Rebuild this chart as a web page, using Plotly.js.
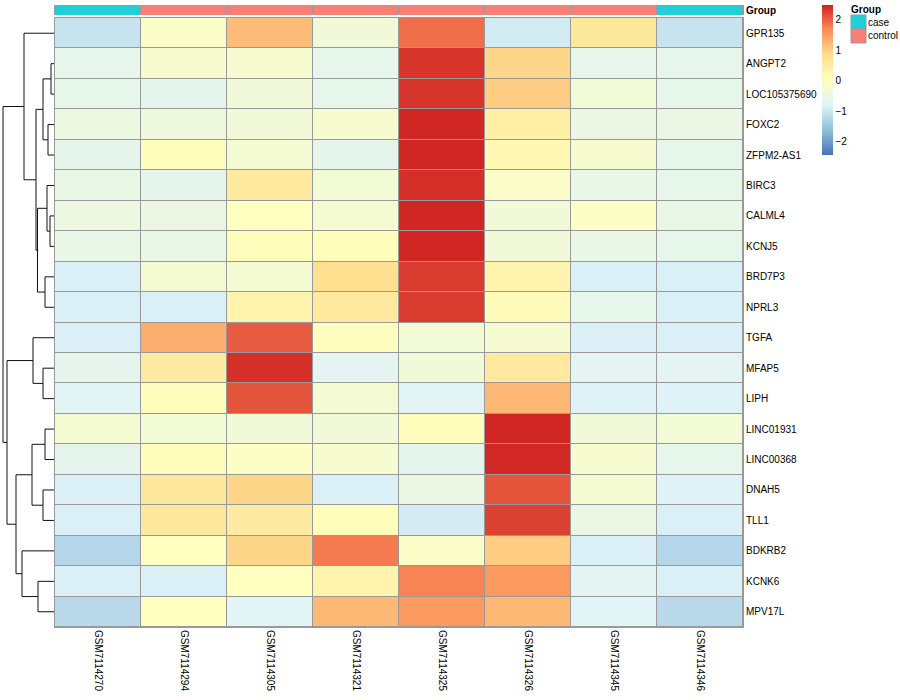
<!DOCTYPE html>
<html><head><meta charset="utf-8">
<script src="https://cdn.plot.ly/plotly-3.0.1.min.js"></script>
<style>html,body{margin:0;padding:0;background:#fff}#chart{width:900px;height:700px}</style>
</head><body><div id="chart"></div>
<script>
// ---- data ----
const sampleNames = ['GSM7114270','GSM7114294','GSM7114305','GSM7114321','GSM7114325','GSM7114326','GSM7114345','GSM7114346'];
const sampleGroups = ['case','control','control','control','control','control','control','case'];
const groupLevels = ['case','control'];
const groupColors = ['#1FD0D8','#FA7E74'];
const geneNames = ['GPR135','ANGPT2','LOC105375690','FOXC2','ZFPM2-AS1','BIRC3','CALML4','KCNJ5','BRD7P3','NPRL3',
  'TGFA','MFAP5','LIPH','LINC01931','LINC00368','DNAH5','TLL1','BDKRB2','KCNK6','MPV17L'];
const zScores = [
  [-1.05,-0.10, 1.20,-0.35, 1.90,-0.92, 0.65,-1.05],
  [-0.60,-0.20,-0.20,-0.60, 2.35, 0.95,-0.60,-0.60],
  [-0.60,-0.65,-0.35,-0.60, 2.35, 1.05,-0.30,-0.60],
  [-0.45,-0.40,-0.35,-0.20, 2.46, 0.45,-0.50,-0.50],
  [-0.62, 0.08,-0.25,-0.62, 2.46, 0.20,-0.20,-0.60],
  [-0.55,-0.62, 0.60,-0.30, 2.40,-0.10,-0.55,-0.60],
  [-0.45,-0.50, 0.00,-0.25, 2.46,-0.35,-0.05,-0.55],
  [-0.55,-0.55, 0.08, 0.08, 2.46,-0.35,-0.55,-0.60],
  [-0.85,-0.25,-0.25, 0.85, 2.30, 0.35,-0.85,-0.85],
  [-0.85,-0.85, 0.35, 0.60, 2.30, 0.10,-0.60,-0.85],
  [-0.85, 1.35, 2.05, 0.05,-0.30,-0.20,-0.85,-0.85],
  [-0.65, 0.55, 2.40,-0.70,-0.35, 0.60,-0.70,-0.70],
  [-0.75, 0.08, 2.10,-0.25,-0.75, 1.25,-0.80,-0.80],
  [-0.25,-0.30,-0.35,-0.35, 0.08, 2.46,-0.35,-0.30],
  [-0.65, 0.08,-0.05,-0.20,-0.65, 2.45,-0.20,-0.60],
  [-0.85, 0.65, 0.95,-0.85,-0.50, 2.10,-0.25,-0.80],
  [-0.85, 0.65, 0.55, 0.08,-0.90, 2.25,-0.50,-0.85],
  [-1.25, 0.00, 0.95, 1.80,-0.10, 1.05,-0.85,-1.25],
  [-0.85,-0.85, 0.02, 0.35, 1.75, 1.55,-0.70,-0.85],
  [-1.20, 0.02,-0.75, 1.25, 1.55, 1.25,-0.75,-1.20]
];
// row dendrogram (hclust style: negative = leaf row index+1, positive = earlier merge)
const mergeLeft   = [-2, -7, -4, -6, -9, -14, 1, -12, -16, 4, -19, 7, -11, 6, -1, -18, 14, 13, 15];
const mergeRight  = [-3, -8, -5,  2, -10, -15, 3, -13, -17, 5, -20, 10, 8, 9, 12, 11, 16, 17, 18];
const mergeHeight = [ 3,  4,  6,  7,  9,   9, 11,  11,  11, 16.5, 16, 18, 21, 22, 30, 32, 38, 47, 51];
const colorTicks = [-2, -1, 0, 1, 2];

// ---- build ----
const zMin = -2.43, zMax = 2.49;
const palette = ['#4575B4','#91BFDB','#E0F3F8','#FFFFBF','#FEE090','#FC8D59','#CF2322'];
const colorscale = palette.map((c, i) => [i / (palette.length - 1), c]);
const colIdx = sampleNames.map((_, i) => i);
const rowIdx = geneNames.map((_, i) => i);

const info = [];
const dx = [], dy = [];
function node(id) { return id < 0 ? {y: -id - 1, h: 0} : info[id - 1]; }
for (let k = 0; k < mergeLeft.length; k++) {
  const a = node(mergeLeft[k]), b = node(mergeRight[k]), h = mergeHeight[k];
  dx.push(a.h, h, h, b.h, null);
  dy.push(a.y, a.y, b.y, b.y, null);
  info.push({y: (a.y + b.y) / 2, h: h});
}

const groupCodes = sampleGroups.map(g => groupLevels.indexOf(g));
const annScale = [[0, groupColors[0]], [0.5, groupColors[0]], [0.5, groupColors[1]], [1, groupColors[1]]];

const traces = [
  {type: 'heatmap', x: colIdx, y: rowIdx, z: zScores, zmin: zMin, zmax: zMax,
   colorscale: colorscale, xgap: 1, ygap: 1, hoverinfo: 'skip',
   colorbar: {x: 822/900, xanchor: 'left', y: 1 - 5/700, yanchor: 'top',
     lenmode: 'pixels', len: 150, thickness: 11, thicknessmode: 'pixels',
     outlinewidth: 0, xpad: 0, ypad: 0, tickvals: colorTicks, ticks: '',
     tickfont: {size: 10, color: '#000'}}},
  {type: 'heatmap', x: colIdx, y: [0], z: [groupCodes], zmin: 0, zmax: 1,
   colorscale: annScale, showscale: false, xgap: 1, hoverinfo: 'skip',
   xaxis: 'x', yaxis: 'y3'},
  {type: 'scatter', mode: 'lines', x: dx, y: dy, xaxis: 'x2', yaxis: 'y',
   line: {color: '#111', width: 1}, hoverinfo: 'skip', connectgaps: false}
];

const grey = '#999999';
const F = "'Liberation Sans', Arial, Helvetica, sans-serif";
const shapes = [
  {type: 'rect', xref: 'x domain', yref: 'y domain', x0: 0, x1: 1, y0: 0, y1: 1,
   fillcolor: grey, line: {width: 0}, layer: 'below'},
  {type: 'rect', xref: 'x domain', yref: 'y3 domain', x0: 0, x1: 1, y0: 0, y1: 1,
   fillcolor: grey, line: {width: 0}, layer: 'below'}
];
const annotations = [
  {xref: 'paper', yref: 'paper', x: 849/900, y: 1 - 9/700, xanchor: 'left', yanchor: 'middle',
   text: '<b>Group</b>', showarrow: false, font: {size: 10, color: '#000', family: F}}
];
groupLevels.forEach((g, i) => {
  const top = 15 + i * 14;
  shapes.push({type: 'rect', xref: 'paper', yref: 'paper', x0: 851/900, x1: 866/900,
    y0: 1 - (top + 14)/700, y1: 1 - top/700, fillcolor: groupColors[i], line: {color: grey, width: 1}});
  annotations.push({xref: 'paper', yref: 'paper', x: 866/900, y: 1 - (top + 7)/700,
    xanchor: 'left', yanchor: 'middle', text: g, showarrow: false, font: {size: 10, color: '#000', family: F}});
});

const layout = {
  width: 900, height: 700, margin: {l: 0, r: 0, t: 0, b: 0},
  paper_bgcolor: '#fff', plot_bgcolor: 'rgba(0,0,0,0)', showlegend: false,
  font: {family: F, size: 10, color: '#000'},
  xaxis: {domain: [55/900, 743/900], range: [-0.5, 7.5], tickvals: colIdx, ticktext: sampleNames,
    tickangle: 90, ticks: '', showgrid: false, zeroline: false, showline: true, mirror: true,
    linecolor: grey, linewidth: 1, anchor: 'y', automargin: false, tickfont: {size: 10}},
  yaxis: {domain: [73/700, 682/700], range: [19.5, -0.5], tickvals: rowIdx, ticktext: geneNames,
    side: 'right', ticks: '', showgrid: false, zeroline: false, showline: true, mirror: true,
    linecolor: grey, linewidth: 1, anchor: 'x', automargin: false, tickfont: {size: 10}},
  yaxis3: {domain: [1 - 15/700, 1 - 5/700], range: [-0.5, 0.5], tickvals: [0], ticktext: ['<b>Group</b>'],
    side: 'right', ticks: '', showgrid: false, zeroline: false, showline: true, mirror: true,
    linecolor: grey, linewidth: 1, anchor: 'x', automargin: false, tickfont: {size: 10}},
  xaxis2: {domain: [0, 54/900], range: [54, 0], visible: false, anchor: 'y', showgrid: false, zeroline: false},
  shapes: shapes, annotations: annotations
};
Plotly.newPlot('chart', traces, layout, {displayModeBar: false, staticPlot: true});
</script></body></html>
